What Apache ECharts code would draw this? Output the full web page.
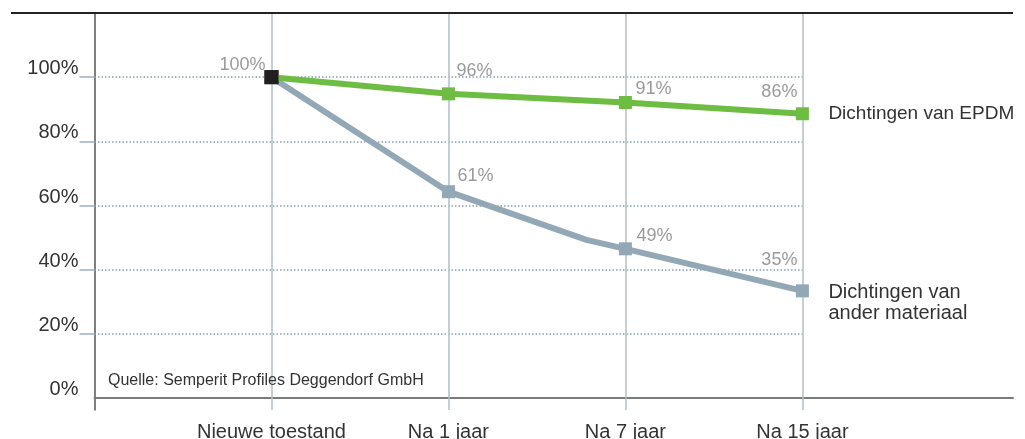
<!DOCTYPE html>
<html><head><meta charset="utf-8">
<script src="https://cdn.jsdelivr.net/npm/echarts@6/dist/echarts.min.js"></script>
<style>html,body{margin:0;padding:0;background:#fff}#c{width:1025px;height:439px}</style>
</head><body><div id="c"></div>
<script>
// ---- data ----
const categories = ['Nieuwe toestand', 'Na 1 jaar', 'Na 7 jaar', 'Na 15 jaar'];
const yTickValues = [0, 20, 40, 60, 80, 100];
const epdmX = [0, 1, 2, 3];
const epdmValues = [100, 94.8, 92.1, 88.6];
const epdmLabels = ['', '96%', '91%', '86%'];
const otherX = [0, 1, 1.78, 2, 3];
const otherValues = [100, 64.3, 49.3, 46.5, 33.4];
const otherLabels = ['100%', '61%', '', '49%', '35%'];
const seriesNames = ['Dichtingen van EPDM', 'Dichtingen van\nander materiaal'];
const sourceText = 'Quelle: Semperit Profiles Deggendorf GmbH';

// ---- label placement (style) ----
const epdmLabelPlace = [null, ['left', 8, -23], ['left', 10, -13], ['right', -5, -22]];
const otherLabelPlace = [['right', -6, -12], ['left', 9, -16], null, ['left', 11, -13], ['right', -5, -31]];

const FONT = 'Liberation Sans, Arial, sans-serif';
const GREEN = '#6cbd42', GREY = '#93a8b6', BLACK = '#231f20';

function buildData(xs, vals, labels, places) {
  return vals.map((v, i) => {
    const item = { value: [xs[i], v] };
    const p = places[i];
    if (labels[i] && p) {
      item.label = { show: true, formatter: labels[i], position: 'inside', align: p[0],
        verticalAlign: 'middle', offset: [p[1], p[2]] };
    }
    if (i === 0) { item.itemStyle = { color: BLACK }; item.symbolSize = 14; }
    if (!labels[i] && !p && i !== 0 && xs[i] % 1 !== 0) item.symbol = 'none';
    return item;
  });
}

const chart = echarts.init(document.getElementById('c'), null, { renderer: 'canvas' });

const hLineStyle = { type: [1.5, 2], color: '#889fb1', width: 1.6 };
const vLineStyle = { type: 'solid', color: '#aebfcb', width: 1.5 };
const gridMarks = yTickValues.filter(v => v > 0).map(v => [
  { coord: [-1, v], lineStyle: hLineStyle }, { coord: [3, v] }
]);
const vertMarks = epdmX.map(x => ({ xAxis: x, lineStyle: vLineStyle }));

chart.setOption({
  animation: false,
  textStyle: { fontFamily: FONT },
  grid: { left: 94.5, right: 12, top: 13, bottom: 29, containLabel: false, outerBoundsMode: 'none' },
  xAxis: {
    type: 'value', min: -1, max: 4.19,
    axisLine: { show: true, onZero: true, lineStyle: { color: '#7b7b7b', width: 2 } },
    axisTick: { show: false },
    splitLine: { show: false },
    axisLabel: {
      customValues: epdmX,
      formatter: v => categories[Math.round(v)] || '',
      fontSize: 20, color: '#333', margin: 12, fontFamily: FONT
    }
  },
  yAxis: {
    type: 'value', min: -3.74, max: 120,
    axisLine: { show: true, onZero: false, lineStyle: { color: '#555', width: 1.5 } },
    axisTick: { show: true, customValues: yTickValues.filter(v => v > 0), length: 15,
      lineStyle: { color: '#9cb0bf', width: 1.5 } },
    splitLine: { show: false },
    axisLabel: {
      customValues: yTickValues,
      formatter: v => v + '%',
      fontSize: 20, color: '#333', margin: 16, verticalAlign: 'bottom', lineHeight: 17,
      fontFamily: FONT
    }
  },
  graphic: [
    { type: 'line', shape: { x1: 11, y1: 13, x2: 1013, y2: 13 },
      style: { stroke: '#222', lineWidth: 2 }, z: 10 },
    { type: 'text', left: 108, top: 373,
      style: { text: sourceText, fontSize: 16, fill: '#333', fontFamily: FONT }, z: 10 }
  ],
  series: [
    {
      type: 'line', name: 'grid', data: [], silent: true, z: 1,
      markLine: {
        silent: true, symbol: 'none', animation: false, z: 1,
        label: { show: false },
        data: gridMarks.concat(vertMarks)
      }
    },
    {
      type: 'line', name: seriesNames[1], z: 6,
      data: buildData(otherX, otherValues, otherLabels, otherLabelPlace),
      symbol: 'rect', symbolSize: 13,
      lineStyle: { color: GREY, width: 6 },
      itemStyle: { color: GREY },
      label: { fontSize: 18, color: '#9a9a9a', fontFamily: FONT },
      endLabel: { show: true, formatter: seriesNames[1], fontSize: 20, color: '#333',
        distance: 26, align: 'left', verticalAlign: 'middle', lineHeight: 21.5,
        offset: [0, 12], fontFamily: FONT }
    },
    {
      type: 'line', name: seriesNames[0], z: 7,
      data: buildData(epdmX, epdmValues, epdmLabels, epdmLabelPlace),
      symbol: 'rect', symbolSize: 13,
      lineStyle: { color: GREEN, width: 6 },
      itemStyle: { color: GREEN },
      label: { fontSize: 18, color: '#9a9a9a', fontFamily: FONT },
      endLabel: { show: true, formatter: seriesNames[0], fontSize: 19, color: '#333',
        distance: 26, align: 'left', verticalAlign: 'middle', fontFamily: FONT }
    }
  ]
});
</script></body></html>
